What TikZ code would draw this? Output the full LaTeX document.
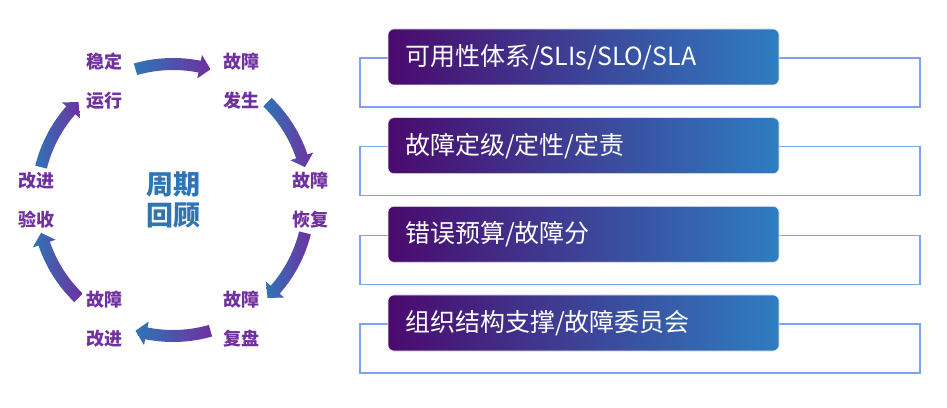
\documentclass[tikz,border=0pt]{standalone}
\usepackage{fontspec}
\newfontfamily\cjk{Noto Sans CJK SC}
\usetikzlibrary{calc}
\definecolor{cycblue}{HTML}{2E75B6}
\definecolor{cycpurple}{HTML}{7030A0}
\definecolor{boxleft}{HTML}{4A0A6E}
\definecolor{boxright}{HTML}{2F7DC1}
\definecolor{outlineblue}{HTML}{7BA3F2}
\begin{document}
\begin{tikzpicture}[x=1pt,y=1pt,
 steplabel/.style={font=\cjk\bfseries\fontsize{18}{39}\selectfont, text=cycpurple, align=center, inner sep=0pt},
 centerlabel/.style={font=\cjk\bfseries\fontsize{27}{31}\selectfont, text=cycblue, align=center, inner sep=0pt},
 cyclearrow/.style={left color=cycblue, right color=cycpurple},
 topicbox/.style={rounded corners=6pt, left color=boxleft, right color=boxright, draw=white!85!gray, line width=0.6pt, minimum width=391pt, minimum height=56pt, text width=357pt, align=left, inner xsep=17pt, inner ysep=0pt, font=\cjk\fontsize{25}{30}\selectfont, text=white},
 outlinebox/.style={draw=outlineblue, line width=1.3pt, minimum width=560pt, minimum height=49pt, inner sep=0pt}]
\useasboundingbox (0,0) rectangle (947,407);

% cycle
\coordinate (c) at (173,207);
\node[centerlabel] (center) at (c) {周期\\回顾};
\node[steplabel] (s1) at ($(c)+(120:137pt)$) {稳定\\运行};
\node[steplabel] (s2) at ($(c)+(60:137pt)$) {故障\\发生};
\node[steplabel] (s3) at ($(c)+(0:137pt)$) {故障\\恢复};
\node[steplabel] (s4) at ($(c)+(-60:137pt)$) {故障\\复盘};
\node[steplabel] (s5) at ($(c)+(-120:137pt)$) {故障\\改进};
\node[steplabel] (s6) at ($(c)+(180:137pt)$) {改进\\验收};

\foreach \m in {90,30,-30,-90,-150,150}{
  \pgfmathsetmacro\aa{\m+16}
  \pgfmathsetmacro\ab{\m-16}
  \pgfmathsetmacro\ah{\m-11.3}
  \path[cyclearrow] ($(c)+(\aa:142pt)$) arc[start angle=\aa, end angle=\ah, radius=142pt]
    -- ($(c)+(\ah:148pt)$) -- ($(c)+(\ab:136pt)$) -- ($(c)+(\ah:124pt)$)
    -- ($(c)+(\ah:130pt)$) arc[start angle=\ah, end angle=\aa, radius=130pt] -- cycle;
}

% topics
\node[outlinebox] (o1) at (640,324.5) {};
\node[topicbox] (b1) at (583.5,350) {可用性体系/SLIs/SLO/SLA};
\node[outlinebox] (o2) at (640,235.8) {};
\node[topicbox] (b2) at (583.5,261.3) {故障定级/定性/定责};
\node[outlinebox] (o3) at (640,147.2) {};
\node[topicbox] (b3) at (583.5,172.7) {错误预算/故障分};
\node[outlinebox] (o4) at (640,58.5) {};
\node[topicbox] (b4) at (583.5,84) {组织结构支撑/故障委员会};
\end{tikzpicture}
\end{document}
